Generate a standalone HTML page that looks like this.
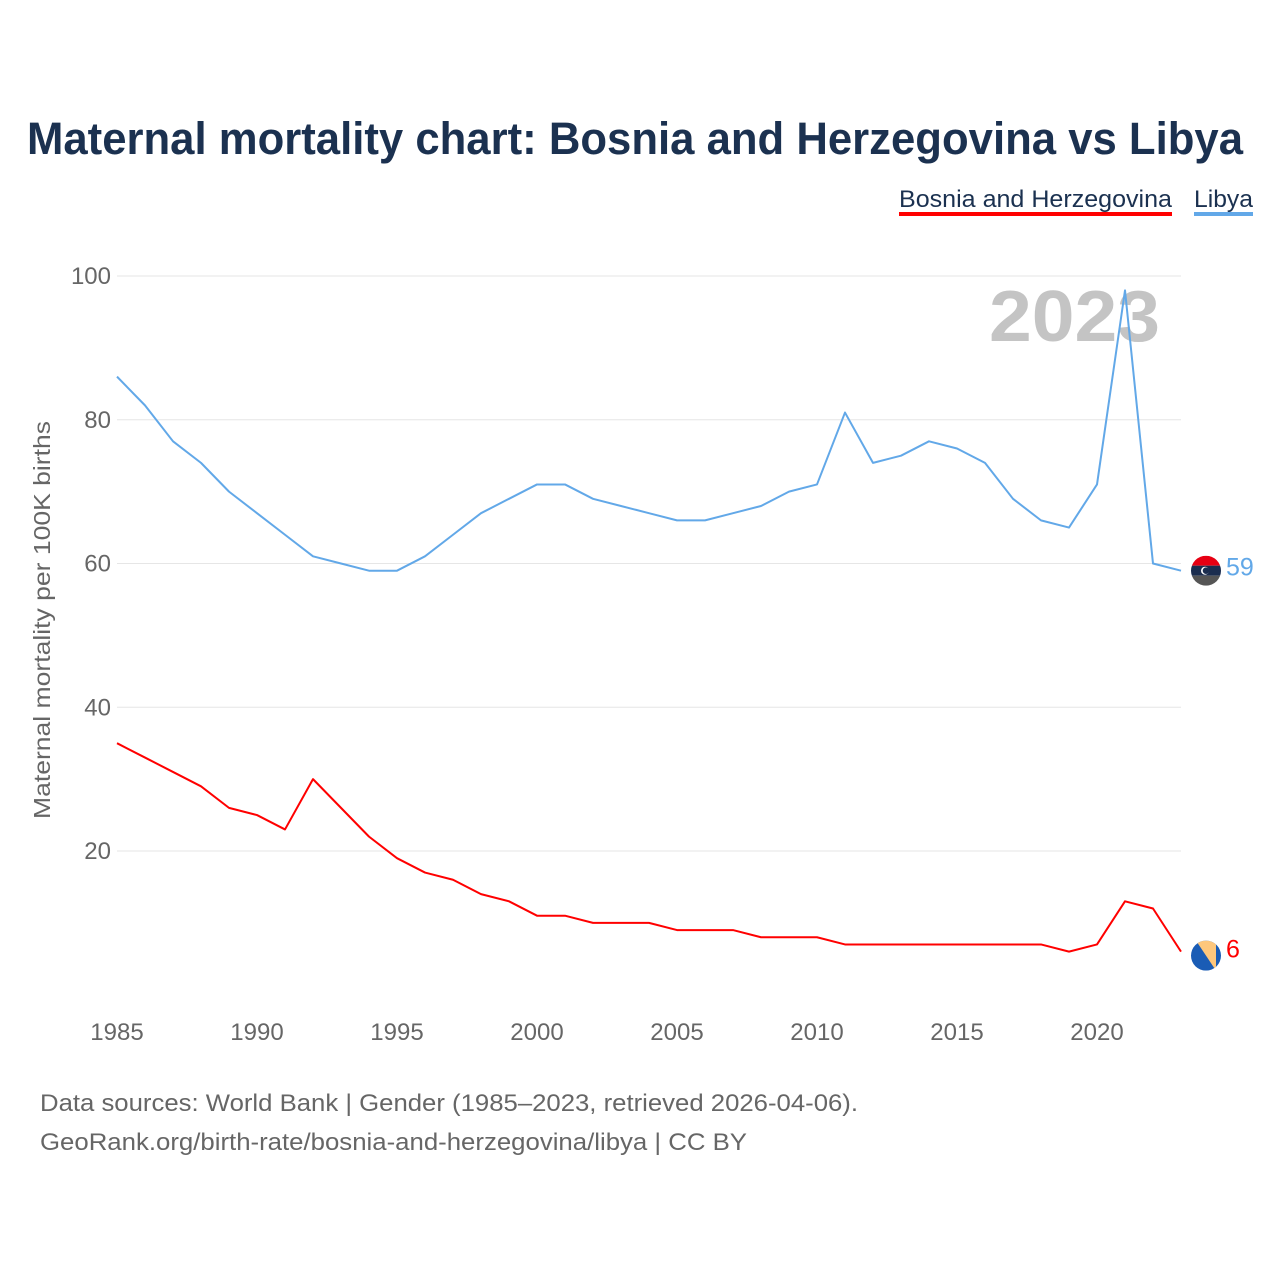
<!DOCTYPE html>
<html><head><meta charset="utf-8">
<style>
body{margin:0;background:#fff;font-family:"Liberation Sans",sans-serif;}
svg text{font-family:"Liberation Sans",sans-serif;}
</style></head>
<body>
<svg width="1280" height="1280" viewBox="0 0 1280 1280">
<text x="27" y="154" textLength="1216" lengthAdjust="spacingAndGlyphs" font-size="45" font-weight="bold" fill="#1b3150">Maternal mortality chart: Bosnia and Herzegovina vs Libya</text>
<g>
<text x="899" y="207" textLength="273" lengthAdjust="spacingAndGlyphs" font-size="24" fill="#1b3150">Bosnia and Herzegovina</text>
<rect x="899" y="212" width="273" height="4" fill="#ff0000"/>
</g>
<g>
<text x="1194" y="207" textLength="59" lengthAdjust="spacingAndGlyphs" font-size="24" fill="#1b3150">Libya</text>
<rect x="1194" y="212" width="59" height="4" fill="#62a8e8"/>
</g>
<g id="grid"></g>
<g id="yticks"></g>
<g id="xticks"></g>
<text x="989" y="341" textLength="171" lengthAdjust="spacingAndGlyphs" font-size="72" font-weight="bold" fill="#c4c4c4">2023</text>
<text transform="translate(50,620) rotate(-90)" text-anchor="middle" textLength="398" lengthAdjust="spacingAndGlyphs" font-size="23" fill="#666">Maternal mortality per 100K births</text>
<g id="series"></g>
<text x="40" y="1111" textLength="818" lengthAdjust="spacingAndGlyphs" font-size="24" fill="#666">Data sources: World Bank | Gender (1985–2023, retrieved 2026-04-06).</text>
<text x="40" y="1150" textLength="707" lengthAdjust="spacingAndGlyphs" font-size="24" fill="#666">GeoRank.org/birth-rate/bosnia-and-herzegovina/libya | CC BY</text>
</svg>
<script>
const years=[];for(let y=1985;y<=2023;y++)years.push(y);
const libya=[86,82,77,74,70,67,64,61,60,59,59,61,64,67,69,71,71,69,68,67,66,66,67,68,70,71,81,74,75,77,76,74,69,66,65,71,98,60,59];
const bosnia=[35,33,31,29,26,25,23,30,26,22,19,17,16,14,13,11,11,10,10,10,9,9,9,8,8,8,7,7,7,7,7,7,7,7,6,7,13,12,6];
const yTicks=[20,40,60,80,100];
const xTicks=[1985,1990,1995,2000,2005,2010,2015,2020];
const NS="http://www.w3.org/2000/svg";
const X=v=>117+(v-1985)*28;
const Y=v=>994.75-v*7.1875;
function mk(t,a,p){const e=document.createElementNS(NS,t);for(const k in a)e.setAttribute(k,a[k]);p.appendChild(e);return e;}
const grid=document.getElementById('grid'),yt=document.getElementById('yticks'),xt=document.getElementById('xticks'),ser=document.getElementById('series');
yTicks.forEach(v=>{
 const l=mk('line',{x1:117,x2:1181,y1:Y(v),y2:Y(v),stroke:'#e6e6e6','stroke-width':1},grid);
 
 
 const t=mk('text',{x:111,y:Y(v)+8,'text-anchor':'end','font-size':24,fill:'#666'},yt);
 t.textContent=v;
 
 
});
xTicks.forEach(v=>{
 const t=mk('text',{x:X(v),y:1040,'text-anchor':'middle','font-size':24,fill:'#666'},xt);
 t.textContent=v;
 
 
});
function line(data,color,name){
 const p=mk('polyline',{points:data.map((v,i)=>X(years[i])+','+Y(v)).join(' '),fill:'none',stroke:color,'stroke-width':2,'stroke-linejoin':'round'},ser);
 
 
}
line(libya,'#62a8e8','libya-line');
line(bosnia,'#ff0000','bosnia-line');
const lx=X(2023)+25;
const ly=Y(libya[libya.length-1]);
const gL=mk('g',{},ser);


const cp1=mk('clipPath',{id:'cl1'},gL);mk('circle',{cx:lx,cy:ly,r:15},cp1);
const gl2=mk('g',{'clip-path':'url(#cl1)'},gL);
mk('rect',{x:lx-15,y:ly-15,width:30,height:10,fill:'#e70013'},gl2);
mk('rect',{x:lx-15,y:ly-5,width:30,height:10,fill:'#1b2d4f'},gl2);
mk('rect',{x:lx-15,y:ly+5,width:30,height:10,fill:'#555'},gl2);
mk('circle',{cx:lx-1,cy:ly,r:4,fill:'#fff'},gl2);
mk('circle',{cx:lx,cy:ly,r:3.3,fill:'#1b2d4f'},gl2);
const tl=mk('text',{x:lx+20,y:ly+5,'font-size':25,fill:'#62a8e8'},ser);
tl.textContent=libya[libya.length-1];


const by=Y(bosnia[bosnia.length-1]);
const gB=mk('g',{},ser);


const cp=mk('clipPath',{id:'cl2'},gB);mk('circle',{cx:lx,cy:by+4,r:15},cp);
const gb2=mk('g',{'clip-path':'url(#cl2)'},gB);
mk('rect',{x:lx-15,y:by-11,width:30,height:30,fill:'#1a5cb5'},gb2);
mk('polygon',{points:`${lx-10},${by-11} ${lx+10},${by-11} ${lx+10},${by+19}`,fill:'#fec77c'},gb2);
const tb=mk('text',{x:lx+20,y:by+6,'font-size':25,fill:'#ff0000'},ser);
tb.textContent=bosnia[bosnia.length-1];


</script>
</body></html>
